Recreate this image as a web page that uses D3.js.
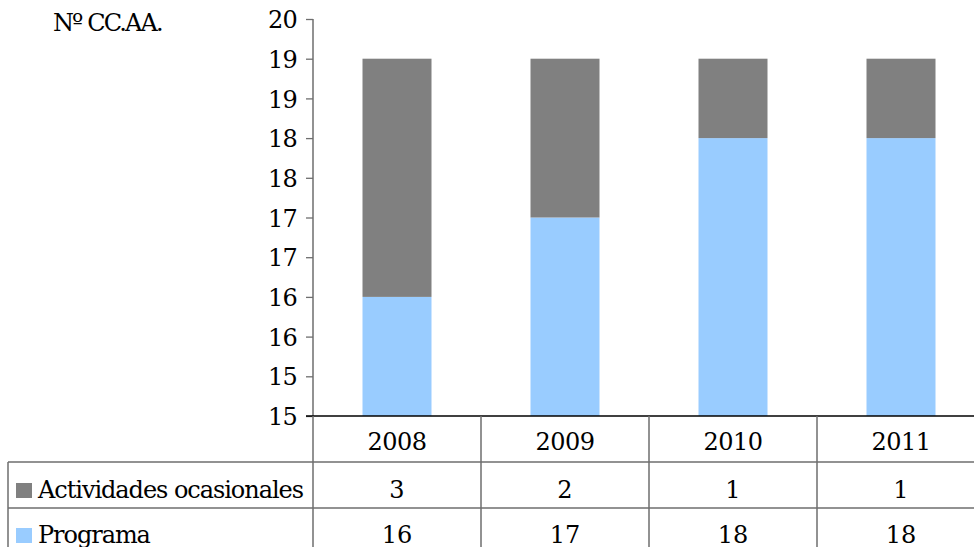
<!DOCTYPE html>
<html>
<head>
<meta charset="utf-8">
<script src="https://cdn.jsdelivr.net/npm/d3@7"></script>
<style>
  html, body { margin: 0; padding: 0; background: #fff; }
  svg { display: block; }
  text { font-family: "DejaVu Serif", serif; fill: #000; }
</style>
</head>
<body>
<svg id="chart" width="974" height="547"></svg>
<script>
const categories = ["2008", "2009", "2010", "2011"];
const seriesNames = ["Actividades ocasionales", "Programa"];
const programa = [16, 17, 18, 18];
const actividades = [3, 2, 1, 1];
const tickValues = [14.5, 15, 15.5, 16, 16.5, 17, 17.5, 18, 18.5, 19, 19.5];
const tickLabels = ["15", "15", "16", "16", "17", "17", "18", "18", "19", "19", "20"];
const yTitle = "Nº CC.AA.";

const colors = { "Actividades ocasionales": "#808080", "Programa": "#99CCFF" };
const lineColor = "#6e6e6e";
const FONT = "DejaVu Serif";
const FS = 24;

const svg = d3.select("#chart");
const left = 313, colW = 168;
const x = d3.scaleBand().domain(categories).range([left, left + colW * categories.length]).padding(0);
const y = d3.scaleLinear().domain([14.5, 19.5]).range([416, 19]);
const barW = 69;

const data = categories.map((c, i) => ({ cat: c, "Programa": programa[i], "Actividades ocasionales": actividades[i] }));
const stack = d3.stack().keys(["Programa", "Actividades ocasionales"]);
const stacked = stack(data);

// bars
svg.append("g").selectAll("g").data(stacked).join("g")
  .attr("fill", d => colors[d.key])
  .selectAll("rect").data(d => d).join("rect")
  .attr("x", d => x(d.data.cat) + (x.bandwidth() - barW) / 2)
  .attr("width", barW)
  .attr("y", d => y(Math.max(d[1], 14.5)))
  .attr("height", d => y(Math.max(d[0], 14.5)) - y(Math.max(d[1], 14.5)));

// y axis
const yAxis = d3.axisLeft(y).tickValues(tickValues)
  .tickFormat((d, i) => tickLabels[i]).tickSize(7).tickPadding(9);
const gy = svg.append("g").attr("transform", `translate(${left},0)`).call(yAxis);
gy.attr("font-family", FONT).attr("font-size", FS);
gy.select(".domain").attr("stroke", lineColor).attr("stroke-width", 1.5).attr("d", `M0,${y(19.5)}V${y(14.5)}`);
gy.selectAll(".tick line").attr("stroke", lineColor).attr("stroke-width", 1.3);
gy.selectAll(".tick text").attr("fill", "#000").attr("dy", "0.36em").attr("letter-spacing", "-0.8");

// baseline
svg.append("line").attr("x1", left - 7).attr("x2", 974).attr("y1", y(14.5)).attr("y2", y(14.5))
  .attr("stroke", "#000").attr("stroke-width", 1.3);

// y title
svg.append("text").attr("x", 53).attr("y", 31).attr("font-size", FS).attr("letter-spacing", "-1.9").text(yTitle);

// data table
const rowTop = [416, 462, 508];
const tbl = svg.append("g").attr("stroke", lineColor).attr("stroke-width", 1.5).attr("fill", "none");
tbl.append("line").attr("x1", 8).attr("x2", 974).attr("y1", rowTop[1]).attr("y2", rowTop[1]);
tbl.append("line").attr("x1", 8).attr("x2", 974).attr("y1", rowTop[2]).attr("y2", rowTop[2]);
tbl.append("line").attr("x1", 8).attr("x2", 8).attr("y1", rowTop[1]).attr("y2", 560);
categories.forEach(c => {
  tbl.append("line").attr("x1", x(c)).attr("x2", x(c)).attr("y1", rowTop[0]).attr("y2", 560);
});

// header year labels
svg.append("g").selectAll("text").data(categories).join("text")
  .attr("x", d => x(d) + x.bandwidth() / 2).attr("y", 450)
  .attr("text-anchor", "middle").attr("font-size", FS).attr("letter-spacing", "-0.5")
  .text(d => d);

// rows
const rows = [
  { name: seriesNames[0], values: actividades, base: 498 },
  { name: seriesNames[1], values: programa, base: 543 }
];
rows.forEach(r => {
  svg.append("rect").attr("x", 16).attr("y", r.base - 15).attr("width", 16).attr("height", 15)
    .attr("fill", colors[r.name]);
  svg.append("text").attr("x", 38).attr("y", r.base).attr("font-size", FS).attr("letter-spacing", "-1.05").text(r.name);
  svg.append("g").selectAll("text").data(r.values).join("text")
    .attr("x", (d, i) => x(categories[i]) + x.bandwidth() / 2).attr("y", r.base)
    .attr("text-anchor", "middle").attr("font-size", FS)
    .text(d => d);
});
</script>
</body>
</html>
